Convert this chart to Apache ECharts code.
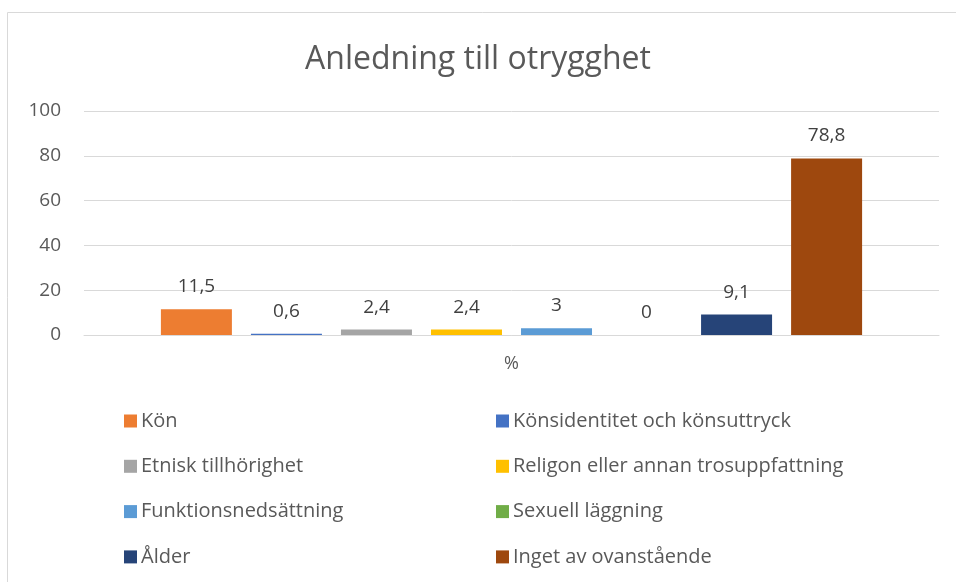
<!DOCTYPE html>
<html>
<head>
<meta charset="utf-8">
<script src="https://cdn.jsdelivr.net/npm/echarts@6/dist/echarts.min.js"></script>
<style>
  html, body { margin: 0; padding: 0; background: #fff; }
  #chart { width: 956px; height: 582px; }
</style>
</head>
<body>
<div id="chart"></div>
<script>
// data
const categories = ['%']
const seriesNames = [
  'Kön',
  'Könsidentitet och könsuttryck',
  'Etnisk tillhörighet',
  'Religon eller annan trosuppfattning',
  'Funktionsnedsättning',
  'Sexuell läggning',
  'Ålder',
  'Inget av ovanstående'
]
const seriesValues = [11.5, 0.6, 2.4, 2.4, 3, 0, 9.1, 78.8]
const seriesColors = ['#ED7D31', '#4472C4', '#A5A5A5', '#FFC000', '#5B9BD5', '#70AD47', '#264478', '#9E480E']
const yTicks = [0, 20, 40, 60, 80, 100]

const font = '"Open Sans", "Noto Sans", sans-serif'

let chart = echarts.init(document.getElementById('chart'))

// legend in two columns, one small legend per entry
let legends = seriesNames.map((name, i) => ({
  data: [name],
  left: i % 2 === 0 ? 119 : 491,
  top: 406 + Math.floor(i / 2) * 45.3,
  itemWidth: 13,
  itemHeight: 13,
  itemGap: 6,
  icon: 'rect',
  textStyle: { color: '#595959', fontSize: 20, fontFamily: font, padding: [0, 0, 0, -1] }
}))

let options = {
  animation: false,
  title: {
    text: 'Anledning till otrygghet',
    left: 'center',
    top: 39,
    textStyle: { color: '#595959', fontSize: 32, fontWeight: 'normal', fontFamily: font }
  },
  graphic: [{
    type: 'rect',
    shape: { x: 7.5, y: 12.5, width: 960, height: 600 },
    style: { fill: 'none', stroke: '#d9d9d9', lineWidth: 1 },
    silent: true
  }],
  legend: legends,
  grid: { left: 84, right: 17, top: 111, height: 224 },
  xAxis: {
    type: 'category',
    data: categories,
    axisLine: { lineStyle: { color: '#d9d9d9', width: 1 } },
    axisTick: { show: false },
    axisLabel: { color: '#595959', fontSize: 18, fontFamily: font, margin: 20 }
  },
  yAxis: {
    type: 'value',
    min: yTicks[0],
    max: yTicks[yTicks.length - 1],
    interval: 20,
    axisLine: { show: false },
    axisTick: { show: false },
    splitLine: { lineStyle: { color: '#d9d9d9', width: 1 } },
    axisLabel: { color: '#595959', fontSize: 19, fontFamily: font, margin: 23 }
  },
  series: seriesNames.map((name, i) => ({
    name: name,
    type: 'bar',
    data: [seriesValues[i]],
    barWidth: 71,
    barGap: '26.8%',
    itemStyle: { color: seriesColors[i] },
    label: {
      show: true,
      position: 'top',
      distance: 13,
      color: '#404040',
      fontSize: 19,
      fontFamily: font,
      formatter: p => String(p.value).replace('.', ',')
    }
  }))
}

chart.setOption(options)
</script>
</body>
</html>
